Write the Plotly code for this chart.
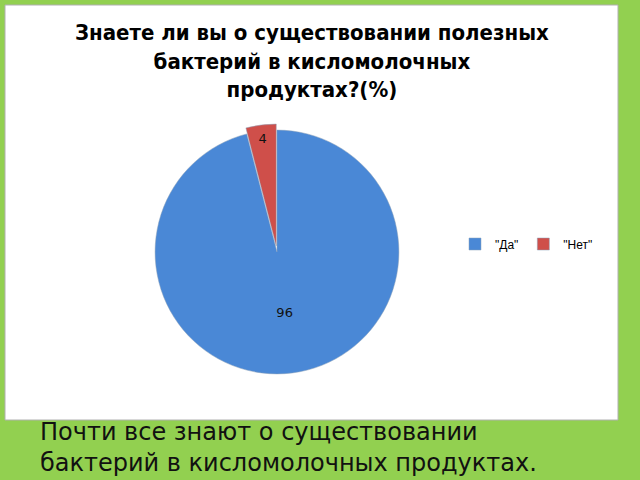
import plotly.graph_objects as go

labels = ['"Да"', '"Нет"']
values = [96, 4]
colors = ["#4a88d6", "#cf4f4a"]

title_text = "Знаете ли вы о существовании полезных<br>бактерий в кисломолочных<br>продуктах?(%)"
note_text = "Почти все знают о существовании<br>бактерий в кисломолочных продуктах."

W, H = 640, 480

def px(x):
    return x / W

def py(y):
    return 1 - y / H

fig = go.Figure()
fig.add_trace(go.Pie(
    labels=labels, values=values, sort=False, direction="clockwise", rotation=0,
    pull=[0, 0.05], marker=dict(colors=colors, line=dict(color="#8aa0b8", width=0.5)),
    textinfo="value", textposition="inside", insidetextorientation="horizontal",
    textfont=dict(family="DejaVu Sans", size=13, color="#111111"),
    domain=dict(x=[px(149), px(405)], y=[py(380), py(124)]),
))

# white chart area
fig.add_shape(type="rect", xref="paper", yref="paper",
              x0=px(5), x1=px(618), y0=py(420), y1=py(5),
              fillcolor="white", line=dict(color="#b0b0b0", width=1), layer="below")

fig.add_annotation(text="<b>" + title_text + "</b>", xref="paper", yref="paper",
                   x=px(312), y=py(18), xanchor="center", yanchor="top", showarrow=False,
                   font=dict(family="DejaVu Sans Condensed, Liberation Sans Narrow", size=22, color="#000000"),
                   align="center")

fig.add_annotation(text=note_text, xref="paper", yref="paper",
                   x=px(38), y=py(416), xanchor="left", yanchor="top", showarrow=False,
                   font=dict(family="DejaVu Sans", size=24, color="#111111"), align="left")

fig.update_layout(
    width=W, height=H, margin=dict(l=0, r=0, t=0, b=0),
    paper_bgcolor="#92d050", plot_bgcolor="#92d050",
    legend=dict(orientation="h", x=px(455), y=py(244), xanchor="left", yanchor="middle",
                font=dict(family="Liberation Sans, Arial", size=12, color="#000000"),
                bgcolor="rgba(0,0,0,0)", itemwidth=30),
)

fig.write_html("out.html", config={"displayModeBar": False},
               post_script="document.body.style.margin='0';")
